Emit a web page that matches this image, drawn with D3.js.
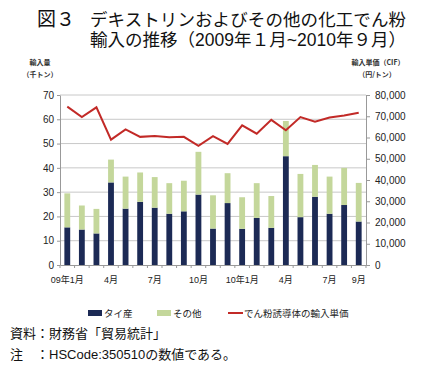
<!DOCTYPE html>
<html>
<head>
<meta charset="utf-8">
<script src="https://cdn.jsdelivr.net/npm/d3@7"></script>
<style>
  body { margin: 0; background: #fff; }
  svg { display: block; }
  .jp { font-family: "Noto Sans CJK JP", sans-serif; }
  .mix { font-family: "Liberation Sans", "Noto Sans CJK JP", sans-serif; }
  .ejes text { font-family: "Liberation Sans", "Noto Sans CJK JP", sans-serif; font-size: 10px; fill: #222; }
  .ejes path, .ejes line { stroke: #999; }
</style>
</head>
<body>
<div id="graf"></div>
<script>
// 2009年1月〜2010年9月
const meses = d3.range(21).map(i => `m${i}`)
const etiquetas = ['09年1月', '', '', '4月', '', '', '7月', '', '', '10月', '', '', '10年1月', '', '', '4月', '', '', '7月', '', '9月']
const tai = [15.5, 14.6, 13.0, 34.0, 23.2, 26.0, 23.6, 21.1, 22.1, 29.0, 15.0, 25.5, 14.9, 19.4, 15.3, 44.8, 19.7, 28.1, 21.1, 24.7, 17.9]
const otros = [14.0, 9.9, 10.1, 9.4, 13.2, 12.1, 12.6, 12.6, 12.6, 17.6, 13.7, 12.3, 13.0, 14.3, 13.1, 14.5, 17.8, 13.1, 15.3, 15.3, 15.9]
const precio = [74500, 69600, 74200, 59000, 63800, 60300, 60700, 60100, 60300, 56100, 60600, 57000, 65700, 61800, 68300, 63400, 69600, 67400, 69400, 70400, 71600]

const colTai = '#1c2a55'
const colOtros = '#c4d79b'
const colLinea = '#c22a27'

const anchoTotal = 430
const altoTotal = 367
const margin = { top: 95, left: 60, right: 64, bottom: 102 }
const ancho = anchoTotal - margin.left - margin.right
const alto = altoTotal - margin.top - margin.bottom

const svg = d3.select('#graf')
  .append('svg')
  .attr('width', anchoTotal)
  .attr('height', altoTotal)

const g = svg.append('g')
  .attr('transform', `translate(${margin.left}, ${margin.top})`)

const x = d3.scaleBand()
  .domain(meses)
  .range([0, ancho])
  .paddingInner(0.6)
  .paddingOuter(0.3)

const y = d3.scaleLinear().domain([0, 70]).range([alto, 0])
const y2 = d3.scaleLinear().domain([0, 80000]).range([alto, 0])

// lineas de fondo
g.append('g')
  .selectAll('line')
  .data(y.ticks(7).filter(d => d > 0))
  .join('line')
  .attr('x1', 0)
  .attr('x2', ancho)
  .attr('y1', d => y(d))
  .attr('y2', d => y(d))
  .attr('stroke', '#c8c8c8')
  .attr('stroke-width', 1)

// ejes
const yAxisGroup = g.append('g').attr('class', 'ejes')
yAxisGroup.call(d3.axisLeft(y).ticks(7).tickSize(3).tickSizeOuter(0).tickPadding(3))

const y2AxisGroup = g.append('g').attr('class', 'ejes')
  .attr('transform', `translate(${ancho}, 0)`)
y2AxisGroup.call(d3.axisRight(y2).ticks(8).tickFormat(d3.format(',')).tickSize(4).tickSizeOuter(0).tickPadding(5))

const xAxisGroup = g.append('g').attr('class', 'ejes')
  .attr('transform', `translate(0, ${alto})`)
xAxisGroup.call(d3.axisBottom(x).tickSize(0).tickSizeOuter(0).tickPadding(12).tickFormat((d, i) => etiquetas[i]))
xAxisGroup.selectAll('text')
  .style('font-size', '9px')

// marcas entre meses
const bordes = meses.map(d => x(d) - x.step() * x.paddingInner() / 2).concat([ancho])
xAxisGroup.selectAll('.borde')
  .data(bordes)
  .join('line')
  .attr('class', 'borde')
  .attr('x1', d => d)
  .attr('x2', d => d)
  .attr('y1', 0)
  .attr('y2', 3)
  .attr('stroke', '#999')

// barras apiladas
const filas = meses.map((m, i) => ({ mes: m, tai: tai[i], otros: otros[i] }))
const pila = d3.stack().keys(['tai', 'otros'])(filas)
const color = d3.scaleOrdinal().domain(['tai', 'otros']).range([colTai, colOtros])

g.append('g')
  .selectAll('g')
  .data(pila)
  .join('g')
  .attr('fill', d => color(d.key))
  .selectAll('rect')
  .data(d => d)
  .join('rect')
  .attr('x', d => x(d.data.mes))
  .attr('width', x.bandwidth())
  .attr('y', d => y(d[1]))
  .attr('height', d => y(d[0]) - y(d[1]))

// linea de precio
const linea = d3.line()
  .x((d, i) => x(meses[i]) + x.bandwidth() / 2)
  .y(d => y2(d))

g.append('path')
  .datum(precio)
  .attr('d', linea)
  .attr('fill', 'none')
  .attr('stroke', colLinea)
  .attr('stroke-width', 2)

// titulo
const titulo = svg.append('g').attr('class', 'mix').attr('fill', '#111')
titulo.append('text').attr('x', 37).attr('y', 26).attr('font-size', 19).text('図３')
titulo.append('text').attr('x', 90).attr('y', 26).attr('font-size', 17.5)
  .attr('textLength', 316).attr('lengthAdjust', 'spacing')
  .text('デキストリンおよびその他の化工でん粉')
titulo.append('text').attr('x', 90).attr('y', 46).attr('font-size', 17.5)
  .attr('textLength', 316).attr('lengthAdjust', 'spacing')
  .text('輸入の推移（2009年１月~2010年９月）')

// titulos de ejes
const tEje = svg.append('g').attr('class', 'jp').attr('font-size', 7).attr('font-weight', 'bold').attr('fill', '#333').attr('text-anchor', 'middle')
tEje.append('text').attr('x', 40).attr('y', 65).text('輸入量')
tEje.append('text').attr('x', 40).attr('y', 77).text('（千トン）')
tEje.append('text').attr('x', 378).attr('y', 65).text('輸入単価（CIF）')
tEje.append('text').attr('x', 377).attr('y', 77).text('（円/トン）')

// leyenda
const leyenda = [
  { nombre: 'タイ産', tipo: 'rect', color: colTai, x: 88 },
  { nombre: 'その他', tipo: 'rect', color: colOtros, x: 157 },
  { nombre: 'でん粉誘導体の輸入単価', tipo: 'line', color: colLinea, x: 228 },
]
const ley = svg.append('g').attr('class', 'jp')
  .selectAll('g').data(leyenda).join('g')
  .attr('transform', d => `translate(${d.x}, 313)`)
ley.filter(d => d.tipo === 'rect').append('rect')
  .attr('x', 0).attr('y', -3).attr('width', 14).attr('height', 6)
  .attr('fill', d => d.color)
ley.filter(d => d.tipo === 'line').append('line')
  .attr('x1', 0).attr('x2', 15).attr('y1', 0).attr('y2', 0)
  .attr('stroke', d => d.color).attr('stroke-width', 2)
ley.append('text')
  .attr('x', 16).attr('y', 3.5)
  .attr('font-size', 9.5)
  .attr('fill', '#222')
  .text(d => d.nombre)

// notas
const notas = svg.append('g').attr('class', 'mix').attr('font-size', 13).attr('fill', '#111')
notas.append('text').attr('x', 10).attr('y', 338).text('資料：財務省「貿易統計」')
notas.append('text').attr('x', 10).attr('y', 359).text('注　：HSCode:350510の数値である。')
</script>
</body>
</html>
